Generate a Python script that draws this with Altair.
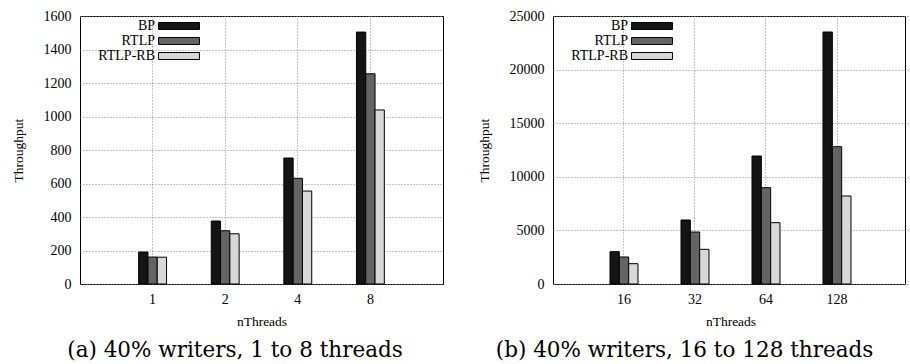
import altair as alt
import pandas as pd

series = ["BP", "RTLP", "RTLP-RB"]
colors = ["#141414", "#646464", "#d8d8d8"]

threads_a = ["1", "2", "4", "8"]
bp_a = [191, 376, 752, 1504]
rtlp_a = [161, 318, 631, 1255]
rtlprb_a = [160, 300, 555, 1039]

threads_b = ["16", "32", "64", "128"]
bp_b = [3015, 5970, 11940, 23507]
rtlp_b = [2520, 4850, 8985, 12810]
rtlprb_b = [1895, 3235, 5720, 8209]

yticks_a = [0, 200, 400, 600, 800, 1000, 1200, 1400, 1600]
yticks_b = [0, 5000, 10000, 15000, 20000, 25000]

caption_a = "(a) 40% writers, 1 to 8 threads"
caption_b = "(b) 40% writers, 16 to 128 threads"

SERIF = "'Liberation Serif', 'Times New Roman', Times, serif"
CAPTION_FONT = "'DejaVu Serif', 'Liberation Serif', serif"


def frame(threads, vals):
    rows = []
    for s, v in zip(series, vals):
        for t, y in zip(threads, v):
            rows.append({"nThreads": t, "series": s, "Throughput": y})
    return pd.DataFrame(rows)


def panel(df, threads, yticks, pi, po, width, xrange, caption, cdx):
    ymax = yticks[-1]
    legend = alt.Legend(
        title=None, orient="none", legendX=92, legendY=3, padding=0,
        symbolType="M-5,-0.85H5V0.85H-5Z", symbolSize=67,
        symbolStrokeColor="black", symbolStrokeWidth=1, symbolOpacity=1,
        labelAlign="right", labelOffset={"expr": "-31"}, labelFont=SERIF,
        labelFontSize=14, labelColor="black", rowPadding=1,
    )
    return alt.Chart(df).mark_bar(stroke="black", strokeWidth=1).encode(
        x=alt.X("nThreads:N", sort=threads,
                scale=alt.Scale(paddingInner=pi, paddingOuter=po, range=xrange),
                axis=alt.Axis(title="nThreads", labelAngle=0, grid=True,
                              ticks=False, domain=False, labelPadding=8,
                              titlePadding=8, labelFont=SERIF,
                              labelFontSize=14, titleFont=SERIF,
                              titleFontSize=13.5, titleFontWeight="normal",
                              labelColor="black", titleColor="black")),
        xOffset=alt.XOffset("series:N", sort=series,
                            scale=alt.Scale(paddingInner=0, paddingOuter=0)),
        y=alt.Y("Throughput:Q",
                scale=alt.Scale(domain=[0, ymax], nice=False),
                axis=alt.Axis(title="Throughput", values=yticks, format="d",
                              grid=True, ticks=False, domain=False,
                              labelPadding=9, titlePadding=18,
                              labelFont=SERIF, labelFontSize=14,
                              titleFont=SERIF, titleFontSize=13.5,
                              titleFontWeight="normal", labelColor="black",
                              titleColor="black")),
        fill=alt.Fill("series:N", sort=series,
                      scale=alt.Scale(domain=series, range=colors),
                      legend=legend),
    ).properties(
        width=width, height=268,
        title=alt.Title(caption, orient="bottom", anchor="middle",
                        frame="bounds", font=CAPTION_FONT, fontSize=21.5,
                        fontWeight="normal", color="black", offset=12,
                        dx=cdx),
    )


left = panel(frame(threads_a, [bp_a, rtlp_a, rtlprb_a]), threads_a, yticks_a,
             0.616, 0.808, 363, [0, 363], caption_a, 8)
right = panel(frame(threads_b, [bp_b, rtlp_b, rtlprb_b]), threads_b, yticks_b,
              0.606, 0.803, 352, [0, 355], caption_b, -8)

chart = alt.hconcat(left, right, spacing=32).resolve_scale(
    x="independent", y="independent", xOffset="independent"
).resolve_legend(fill="independent").configure_view(
    stroke="black", strokeWidth=1
).configure_axis(
    gridColor="#8a8a8a", gridDash=[1, 2], gridWidth=1,
).properties(
    padding={"left": 10, "top": 8, "right": 0, "bottom": 4},
    background="white",
)

chart.save("out.html", embed_options={"renderer": "svg", "actions": False})
